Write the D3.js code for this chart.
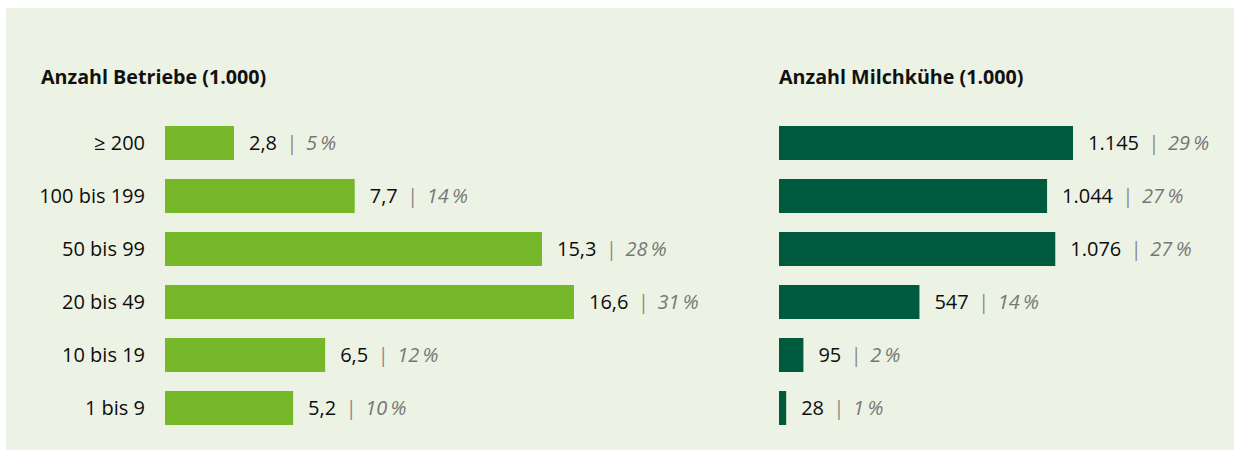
<!DOCTYPE html>
<html><head><meta charset="utf-8">
<script src="https://cdn.jsdelivr.net/npm/d3@7"></script>
<style>
html,body{margin:0;padding:0;background:#fff;}
svg{display:block;font-family:"Open Sans",sans-serif;}
</style></head>
<body><svg id="c" width="1240" height="456"></svg>
<script>
const categories = ["≥ 200","100 bis 199","50 bis 99","20 bis 49","10 bis 19","1 bis 9"];
const betriebeValues = [2.8,7.7,15.3,16.6,6.5,5.2];
const betriebeLabels = ["2,8","7,7","15,3","16,6","6,5","5,2"];
const betriebePct = ["5","14","28","31","12","10"];
const kueheValues = [1145,1044,1076,547,95,28];
const kueheLabels = ["1.145","1.044","1.076","547","95","28"];
const kuehePct = ["29","27","27","14","2","1"];
const titles = ["Anzahl Betriebe (1.000)","Anzahl Milchkühe (1.000)"];

const svg = d3.select("#c");
svg.append("rect").attr("x",6).attr("y",8).attr("width",1228).attr("height",442).attr("fill","#edf3e4");

const y = d3.scaleBand().domain(categories).range([126,425]).paddingInner(19/53).paddingOuter(0);

function panel(x0, title, values, labels, pct, scale, color, showCats){
  const g = svg.append("g");
  g.append("text").attr("x", x0 - (showCats?124:0)).attr("y",84)
    .attr("font-size",19.7).attr("font-weight",700).attr("fill","#111").text(title);
  if(showCats){
    g.selectAll(".cat").data(categories).join("text")
      .attr("x",145).attr("y",d=>y(d)+y.bandwidth()/2).attr("dy","0.36em")
      .attr("text-anchor","end").attr("font-size",20).attr("fill","#0d0d0d").text(d=>d);
  }
  g.selectAll(".bar").data(values).join("rect")
    .attr("x",x0).attr("y",(d,i)=>y(categories[i])).attr("height",y.bandwidth())
    .attr("width",d=>scale(d)).attr("fill",color);
  const t = g.selectAll(".val").data(values).join("text")
    .attr("x",(d,i)=>x0+scale(d)+15).attr("y",(d,i)=>y(categories[i])+y.bandwidth()/2).attr("dy","0.36em")
    .attr("font-size",20);
  t.append("tspan").attr("fill","#0d0d0d").text((d,i)=>labels[i]);
  t.append("tspan").attr("dx",9).attr("fill","#8a8a8a").attr("font-style","italic").text("|");
  t.append("tspan").attr("dx",9).attr("fill","#777").attr("font-style","italic").text((d,i)=>pct[i]+"\u2009%");
}

const xL = d3.scaleLinear().domain([0,16.6]).range([0,409]);
const xR = d3.scaleLinear().domain([0,1145]).range([0,294]);
panel(165, titles[0], betriebeValues, betriebeLabels, betriebePct, xL, "#77b82a", true);
panel(779, titles[1], kueheValues, kueheLabels, kuehePct, xR, "#005a3e", false);
</script></body></html>
